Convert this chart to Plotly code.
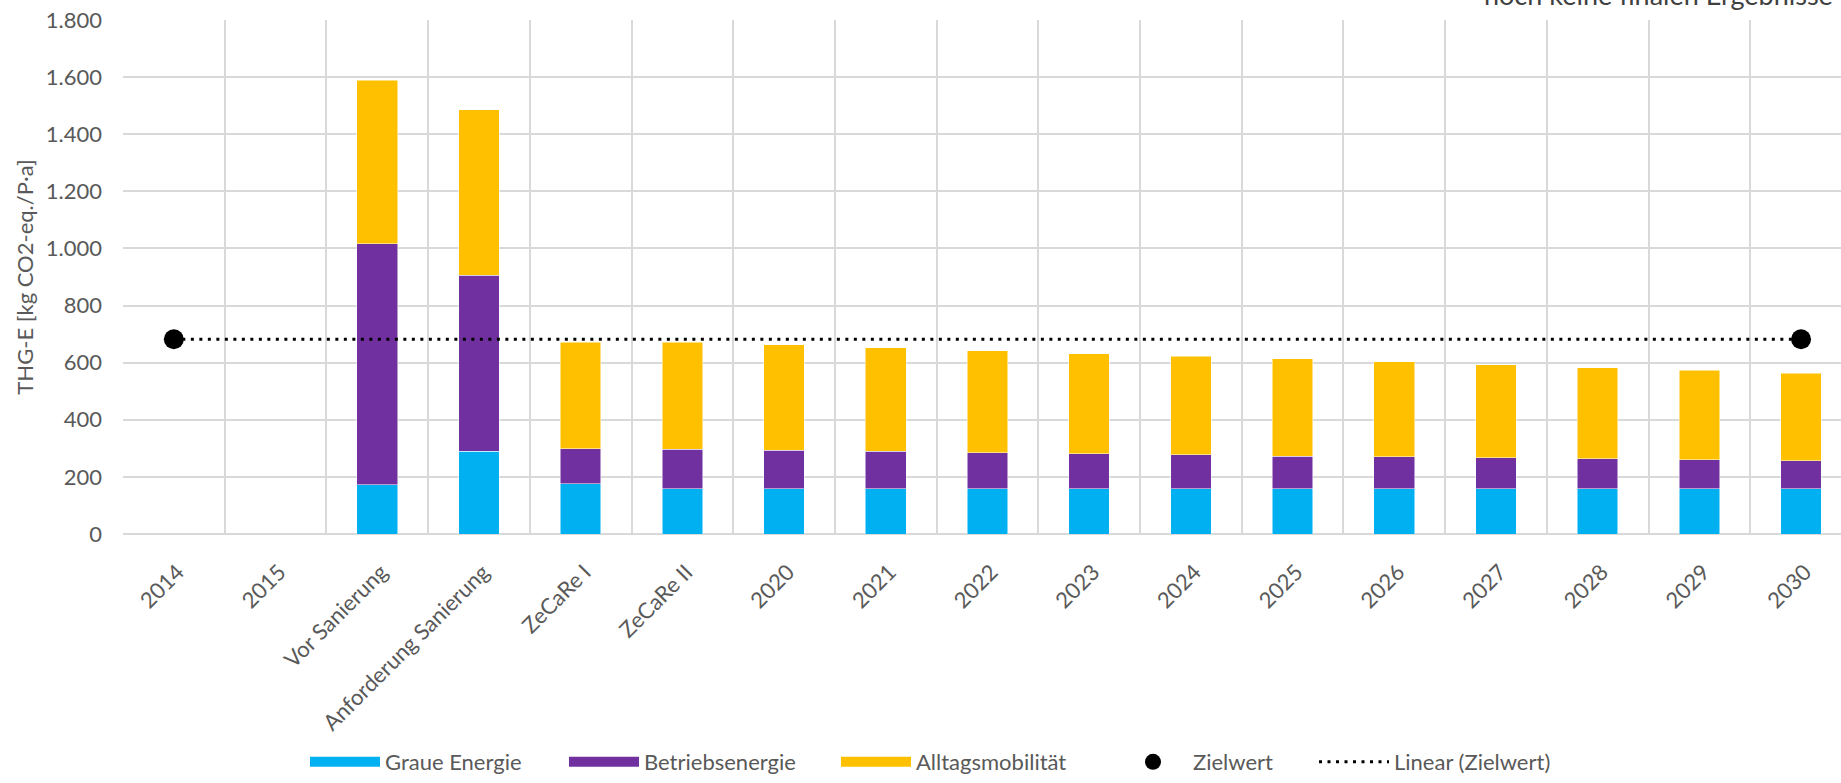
import plotly.graph_objects as go

categories = ["2014", "2015", "Vor Sanierung", "Anforderung Sanierung", "ZeCaRe I", "ZeCaRe II",
              "2020", "2021", "2022", "2023", "2024", "2025", "2026", "2027", "2028", "2029", "2030"]
graue_energie = [None, None, 172, 290, 176, 158, 158, 158, 158, 158, 158, 158, 158, 158, 158, 158, 158]
betriebsenergie = [None, None, 844, 616, 122, 138, 135, 131, 127, 123, 119, 115, 112, 109, 105, 102, 98]
alltagsmobilitaet = [None, None, 573, 580, 374, 376, 369, 363, 357, 351, 346, 340, 333, 326, 320, 313, 307]
zielwert_x = ["2014", "2030"]
zielwert_y = [682, 682]
y_ticks = [0, 200, 400, 600, 800, 1000, 1200, 1400, 1600, 1800]

FONT = "Lato"
TXT = "#595959"
W, H = 1841, 783
FS = 22

series = [("Graue Energie", graue_energie, "#00B0F0", "legend"),
          ("Betriebsenergie", betriebsenergie, "#7030A0", "legend2"),
          ("Alltagsmobilität", alltagsmobilitaet, "#FFC000", "legend3")]

fig = go.Figure()
for name, vals, col, lg in series:
    fig.add_bar(x=categories, y=vals, name=name, showlegend=False,
                marker=dict(color=col, line=dict(color="white", width=0.5)))
for name, vals, col, lg in series:
    # legend-only entry giving the wide flat swatch of the original
    fig.add_scatter(x=[None], y=[None], mode="lines", name=name, showlegend=True,
                    line=dict(color=col, width=13), legend=lg, hoverinfo="skip")
fig.add_scatter(x=zielwert_x, y=zielwert_y, mode="markers", name="Zielwert", showlegend=True,
                marker=dict(color="black", size=20), legend="legend4")
fig.add_scatter(x=zielwert_x, y=zielwert_y, mode="lines", name="Linear (Zielwert)", showlegend=True,
                line=dict(color="black", width=3, dash="3px,5.5px"), legend="legend5")

left, top, bottom_px = 123, 19.5, 534
plot_w = W - left
cat_w = 101.7
xmax = -0.5 + plot_w / cat_w
IW = 70


def leg(text_px):
    return dict(xref="container", yref="container", x=(text_px - IW - 10) / W, y=-0.007,
                xanchor="left", yanchor="bottom", orientation="h", itemwidth=IW,
                font=dict(family=FONT, size=FS, color=TXT), bgcolor="rgba(0,0,0,0)")


fig.update_layout(
    width=W, height=H,
    margin=dict(l=left, r=0, t=top, b=H - bottom_px),
    barmode="stack", bargap=0.6,
    plot_bgcolor="white", paper_bgcolor="white",
    separators=",.",
    showlegend=True,
    font=dict(family=FONT, size=FS, color=TXT),
    legend=leg(385), legend2=leg(644), legend3=leg(916), legend4=leg(1193), legend5=leg(1394),
    xaxis=dict(type="category", categoryorder="array", categoryarray=categories,
               range=[-0.5, xmax], tickson="boundaries", showgrid=True, gridcolor="#D9D9D9", gridwidth=1.5,
               tickangle=-45, ticks="", tickfont=dict(family=FONT, size=FS, color=TXT),
               ticklabelstandoff=20, ticklabelshift=4,
               showline=False, zeroline=False),
    yaxis=dict(range=[0, 1800], tickvals=y_ticks, tickformat=",d", showgrid=True, gridcolor="#D9D9D9",
               gridwidth=1.5, zeroline=True, zerolinecolor="#D9D9D9", zerolinewidth=1.5,
               tickfont=dict(family=FONT, size=FS, color=TXT), ticklabelstandoff=20,
               title=dict(text="THG-E [kg CO2-eq./P·a]", font=dict(family=FONT, size=FS, color=TXT), standoff=6)),
    annotations=[dict(text="noch keine finalen Ergebnisse", xref="paper", yref="paper",
                      x=1, y=1, xanchor="right", yanchor="middle", xshift=-6, yshift=top + 6, showarrow=False,
                      font=dict(family=FONT, size=27, color="#404040"))],
)

fig.write_html("out.html")
